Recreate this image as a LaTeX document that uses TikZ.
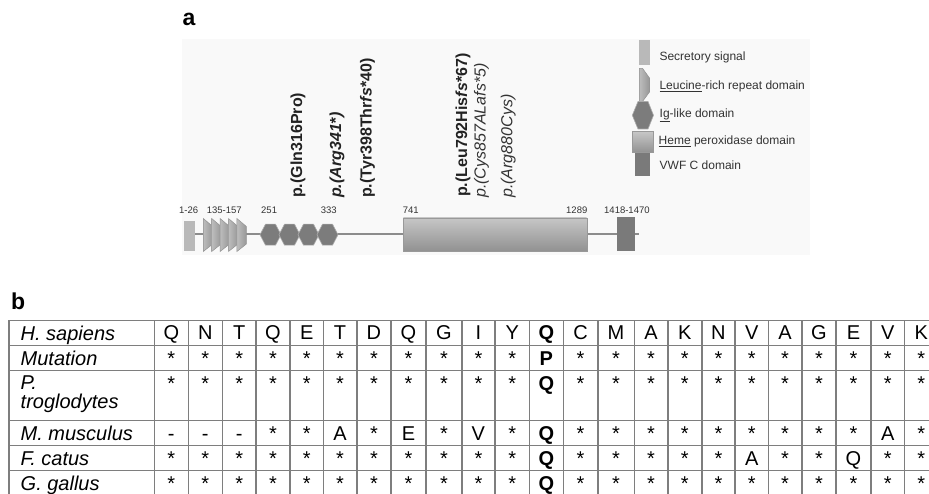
\documentclass[tikz,border=0pt]{standalone}
\usepackage{fontspec}
\setmainfont{Liberation Sans}
\definecolor{bbline}{HTML}{8C8C8C}
\definecolor{sigfill}{HTML}{B9B9B9}
\definecolor{igfill}{HTML}{7C7C7C}
\definecolor{vwffill}{HTML}{7A7A7A}
\definecolor{gridc}{HTML}{7E7E7E}
\definecolor{txta}{HTML}{222222}
\definecolor{txtb}{HTML}{333333}
\definecolor{panelbg}{HTML}{F9F9F9}
\definecolor{lrrlight}{HTML}{BDBDBD}
\definecolor{lrrdark}{HTML}{979797}
\definecolor{hemetop}{HTML}{C6C6C6}
\definecolor{hemebot}{HTML}{919191}

\newcommand\seqrow[3]{%
  \foreach \v [count=\c] in {#3} {
    \pgfmathsetmacro\cx{{171.3,205.3,239.2,273,306.7,340,373.9,408.5,443.9,478.4,512.2,546.3,580.5,616,651,684.7,718.4,751.7,785,818.9,853.5,887.7,921.2}[\c-1]}
    \node[cell] (r#1c\c) at (\cx,#2) {\v};
  }}

\begin{document}
\begin{tikzpicture}[x=1pt,y=-1pt,
  panel/.style={font=\fontsize{23}{26}\selectfont\bfseries, inner sep=0, anchor=base west, text=black},
  posn/.style={font=\fontsize{9.5}{11}\selectfont, inner sep=0, anchor=base west, text=txtb},
  mut/.style={font=\fontsize{16}{18}\selectfont, inner sep=0, anchor=base west, rotate=90, text=txta},
  legtxt/.style={font=\fontsize{12}{14}\selectfont, inner sep=0, anchor=base west, text=txtb},
  lab/.style={font=\fontsize{20}{24}\selectfont\itshape, inner sep=0, anchor=base west, text=black},
  cell/.style={font=\fontsize{20}{24}\selectfont, inner sep=0, anchor=base, text=black},
  backbone/.style={draw=bbline, line width=2pt},
  lrr/.style={left color=lrrlight, right color=lrrdark, draw=gray!85, line width=0.5pt},
  hexa/.style={fill=igfill, draw=gray!65, line width=0.6pt},
  heme/.style={top color=hemetop, bottom color=hemebot, draw=gray!80, line width=0.4pt},
  gridline/.style={draw=gridc, line width=1.6pt}]

\useasboundingbox (0,0) rectangle (929,494);
\clip (0,0) rectangle (929,494);
\fill[white] (0,0) rectangle (929,494);

% ---------------- panel a ----------------
\node[panel] (pa) at (182.5,26) {a};
\fill[panelbg] (182,39) rectangle (810,255);

% backbone of the protein
\coordinate (bbL) at (188,234);
\coordinate (bbR) at (639,234);
\draw[backbone] (bbL) -- (bbR);

% secretory signal
\fill[sigfill] (184,221) rectangle (195,251.5);

% leucine-rich repeats
\foreach \i in {0,...,4} {
  \pgfmathsetmacro\xo{203.3+8.4*\i}
  \path[lrr] (\xo,218.5) -- (\xo+9.5,226.5) -- (\xo+9.5,244) -- (\xo,251.5) -- cycle;
}

% Ig-like domains
\foreach \cx in {270.5,289.5,308.5,327.5} {
  \path[hexa] (\cx-10.5,234.7) -- (\cx-5,224.2) -- (\cx+5,224.2) -- (\cx+10.5,234.7)
     -- (\cx+5,245.2) -- (\cx-5,245.2) -- cycle;
}

% heme peroxidase domain
\path[heme] (403.3,218) rectangle (586.7,251.3);

% VWF C domain
\fill[vwffill] (617.3,216.7) rectangle (635,251);

% residue positions
\node[posn] (p1) at (179,214) {1-26};
\node[posn] (p2) at (206.7,214) {135-157};
\node[posn] (p3) at (261,214) {251};
\node[posn] (p4) at (320.7,214) {333};
\node[posn] (p5) at (402.7,213.5) {741};
\node[posn] (p6) at (566,213.5) {1289};
\node[posn] (p7) at (604,213.5) {1418-1470};

% variants
\node[mut, font=\fontsize{16}{18}\selectfont\bfseries] (m1) at (302,198) {p.(Gln316Pro)};
\node[mut, font=\fontsize{16}{18}\selectfont\bfseries\itshape] (m2) at (341,198) {p.(Arg341*)};
\node[mut, font=\fontsize{16}{18}\selectfont\bfseries] (m3) at (371.5,198) {p.(Tyr398Thr\textit{fs}*40)};
\node[mut, font=\fontsize{16}{18}\selectfont\bfseries] (m4) at (467,197) {p.(Leu792His\textit{fs}*67)};
\node[mut, font=\fontsize{16}{18}\selectfont\itshape, text=txtb] (m5) at (485.7,198) {p.(Cys857ALafs*5)};
\node[mut, font=\fontsize{16}{18}\selectfont\itshape, text=txtb] (m6) at (512.3,198) {p.(Arg880Cys)};

% legend symbols
\fill[sigfill] (639.3,40) rectangle (650,65);
\path[lrr] (639.3,68.3) -- (642.5,68.3) -- (649.5,78) -- (649.5,92) -- (642.5,101.5) -- (639.3,101.5) -- cycle;
\path[hexa] (632.3,115.3) -- (638,101.5) -- (648,101.5) -- (653.5,115.3) -- (648,129) -- (638,129) -- cycle;
\path[heme] (632.3,131.7) rectangle (653.3,152.7);
\fill[vwffill] (635,153.3) rectangle (650,175.7);

% legend labels
\node[legtxt] (l1) at (659.3,61) {Secretory signal};
\node[legtxt] (l2) at (659.3,89.3) {\underline{Leucine}-rich repeat domain};
\node[legtxt] (l3) at (659.5,117.3) {\underline{Ig}-like domain};
\node[legtxt] (l4) at (658.5,145) {\underline{Heme} peroxidase domain};
\node[legtxt] (l5) at (659.5,170) {VWF C domain};

% ---------------- panel b ----------------
\node[panel] (pb) at (11,309.3) {b};

% alignment grid
\foreach \y in {320.5,345.5,370.5,420.5,445.5,470.5,495.5}
  \draw[gridline] (9,\y) -- (940,\y);
\foreach \x in {9,154.3,188.3,222.3,256,290,323.3,356.7,391,426,461.7,495,529.3,563.3,597.7,634.3,667.7,701.7,735,768.3,801.7,836,871,904.3}
  \draw[gridline] (\x,320.5) -- (\x,500);

% species names
\node[lab] (s1) at (20.5,340.5) {H. sapiens};
\node[lab] (s2) at (20.5,365) {Mutation};
\node[lab] (s3) at (20.5,389.5) {P.};
\node[lab] (s3b) at (20.5,408) {troglodytes};
\node[lab] (s4) at (20.5,440) {M. musculus};
\node[lab] (s5) at (20.5,465) {F. catus};
\node[lab] (s6) at (20.5,490) {G. gallus};

% residues
\seqrow{1}{340}{Q,N,T,Q,E,T,D,Q,G,I,Y,\textbf{Q},C,M,A,K,N,V,A,G,E,V,K}
\seqrow{2}{365}{*,*,*,*,*,*,*,*,*,*,*,\textbf{P},*,*,*,*,*,*,*,*,*,*,*}
\seqrow{3}{390}{*,*,*,*,*,*,*,*,*,*,*,\textbf{Q},*,*,*,*,*,*,*,*,*,*,*}
\seqrow{4}{440}{-,-,-,*,*,A,*,E,*,V,*,\textbf{Q},*,*,*,*,*,*,*,*,*,A,*}
\seqrow{5}{465}{*,*,*,*,*,*,*,*,*,*,*,\textbf{Q},*,*,*,*,*,A,*,*,Q,*,*}
\seqrow{6}{490}{*,*,*,*,*,*,*,*,*,*,*,\textbf{Q},*,*,*,*,*,*,*,*,*,*,*}
\end{tikzpicture}
\end{document}
